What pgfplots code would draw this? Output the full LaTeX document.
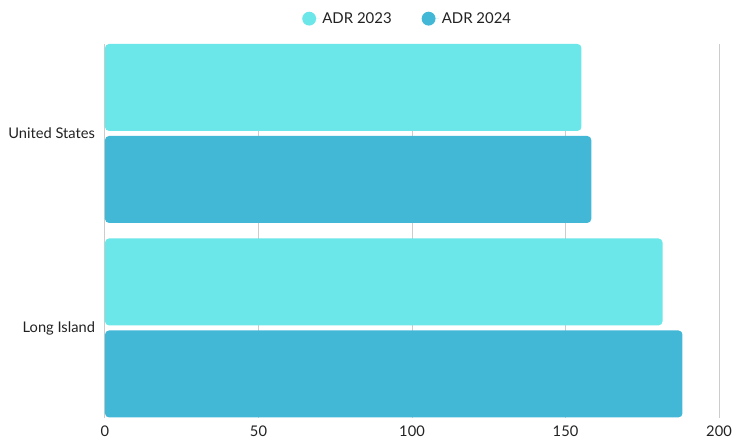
\documentclass[border=0pt]{standalone}
\usepackage{pgfplots}
\pgfplotsset{compat=1.18}
\usepackage{fontspec}
\setmainfont{Lato}
\definecolor{c23}{HTML}{6BE6E9}
\definecolor{c24}{HTML}{42B7D6}
\definecolor{gridc}{HTML}{CCCCCC}
\definecolor{txt}{HTML}{222222}
\begin{document}
\begin{tikzpicture}
\path[use as bounding box] (-78.75pt,-18pt) rectangle (471.75pt,313.5pt);
\begin{axis}[
  at={(0,0)}, anchor=south west,
  scale only axis,
  width=460.5pt, height=280.5pt,
  xmin=0, xmax=200,
  ymin=-0.463, ymax=1.46,
  xtick={0,50,100,150,200},
  ytick={0,1},
  yticklabels={Long Island, United States},
  xmajorgrids,
  major grid style={gridc, line width=0.75pt},
  axis line style={draw=none},
  major tick length=0pt,
  tick label style={font=\fontsize{11}{13}\selectfont, text=txt},
  xticklabel style={yshift=-2.5pt},
  yticklabel style={xshift=-4pt},
  /pgf/number format/assume math mode=true,
  xbar,
  bar width=0.447,
  legend columns=2,
  legend style={draw=none, at={(0.5,1)}, anchor=south, yshift=10pt, xshift=-3pt,
    font=\fontsize{11.2}{13}\selectfont, text=txt,
    /tikz/every even column/.append style={column sep=20.5pt}},
  legend image code/.code={\fill[#1] (0,0) circle (5.2pt); \path (-5.2pt,0) -- (7.9pt,0);},
]
\addplot[draw=none, fill=c23, bar shift=0.2365, rounded corners=3pt] coordinates {(155.2,1) (181.6,0)};
\addplot[draw=none, fill=c24, bar shift=-0.2365, rounded corners=3pt] coordinates {(158.4,1) (188.1,0)};
\legend{ADR 2023, ADR 2024}
\end{axis}
\end{tikzpicture}
\end{document}
